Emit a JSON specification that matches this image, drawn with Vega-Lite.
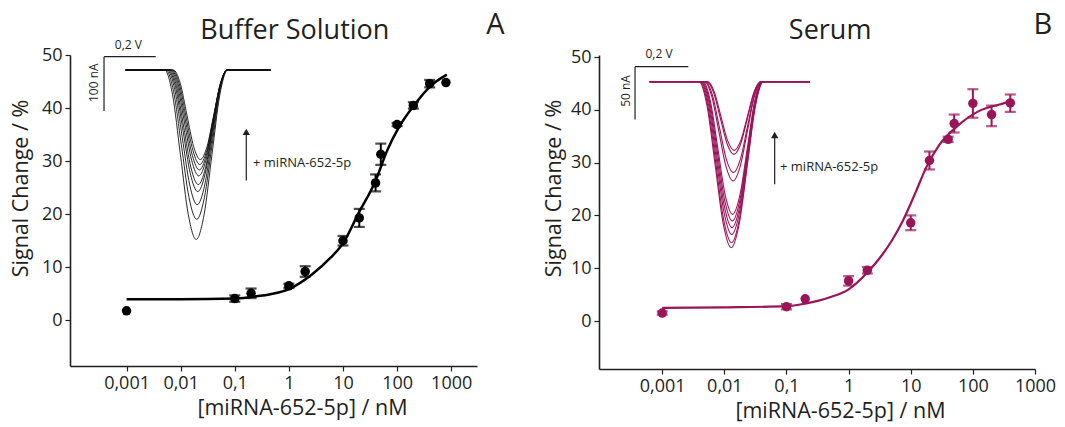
{
"$schema": "https://vega.github.io/schema/vega-lite/v6.json",
"background": "white",
"padding": {"left": 10, "top": 10, "right": 5, "bottom": 0},
"autosize": {"type": "pad"},
"spacing": 122,
"bounds": "flush",
"config": {
  "font": "Open Sans",
  "view": {"stroke": null},
  "axis": {"grid": false, "domainColor": "#231f20", "domainWidth": 1.6, "tickColor": "#231f20", "tickWidth": 1.2, "tickSize": 5, "labelFont": "Open Sans", "labelFontSize": 18, "labelColor": "#231f20", "labelPadding": 3, "titleFont": "Open Sans", "titleFontSize": 21.5, "titleFontWeight": "normal", "titleColor": "#231f20", "labelOverlap": false, "labelFlush": false}
},
"datasets": {
  "fitA": [{"conc":0.001,"value":4.0},{"conc":0.01,"value":4.0},{"conc":0.1,"value":4.1},{"conc":0.2,"value":4.4},{"conc":0.5,"value":5.0},{"conc":1,"value":5.9},{"conc":2.7,"value":8.7},{"conc":5.9,"value":11.8},{"conc":10,"value":14.5},{"conc":19.4,"value":20.2},{"conc":39.7,"value":26.2},{"conc":65,"value":31.9},{"conc":107,"value":36.3},{"conc":202,"value":40.4},{"conc":411,"value":44.1},{"conc":830,"value":46.3}],
  "fitB": [{"conc":0.001,"value":2.5},{"conc":0.01,"value":2.6},{"conc":0.1,"value":2.8},{"conc":0.2,"value":3.3},{"conc":0.5,"value":4.5},{"conc":1,"value":6.0},{"conc":2,"value":9.2},{"conc":3.5,"value":12.6},{"conc":5,"value":15.3},{"conc":7.4,"value":18.9},{"conc":12.2,"value":24.6},{"conc":17.6,"value":29.0},{"conc":29,"value":33.4},{"conc":60,"value":37.2},{"conc":127,"value":39.8},{"conc":267,"value":41.0},{"conc":437,"value":41.7}],
  "ptsA": [{"conc":0.001,"value":1.8,"lo":1.8,"hi":1.8},{"conc":0.1,"value":4.1,"lo":3.5,"hi":4.7},{"conc":0.2,"value":5.1,"lo":4.2,"hi":6.0},{"conc":1,"value":6.5,"lo":6.1,"hi":6.9},{"conc":2,"value":9.2,"lo":8.2,"hi":10.2},{"conc":10,"value":15.0,"lo":14.1,"hi":15.9},{"conc":20,"value":19.3,"lo":17.6,"hi":21.0},{"conc":40,"value":25.9,"lo":24.3,"hi":27.5},{"conc":50,"value":31.3,"lo":29.3,"hi":33.3},{"conc":100,"value":36.9,"lo":36.6,"hi":37.2},{"conc":200,"value":40.5,"lo":39.9,"hi":41.1},{"conc":400,"value":44.6,"lo":43.9,"hi":45.3},{"conc":800,"value":44.8,"lo":44.8,"hi":44.8}],
  "ptsB": [{"conc":0.001,"value":1.5,"lo":1.2,"hi":1.8},{"conc":0.1,"value":2.7,"lo":2.2,"hi":3.2},{"conc":0.2,"value":4.2,"lo":4.2,"hi":4.2},{"conc":1,"value":7.6,"lo":6.7,"hi":8.5},{"conc":2,"value":9.6,"lo":9.0,"hi":10.2},{"conc":10,"value":18.6,"lo":17.2,"hi":20.0},{"conc":20,"value":30.4,"lo":28.7,"hi":32.1},{"conc":40,"value":34.4,"lo":33.9,"hi":34.9},{"conc":50,"value":37.4,"lo":35.7,"hi":39.1},{"conc":100,"value":41.2,"lo":38.5,"hi":43.9},{"conc":200,"value":39.1,"lo":36.9,"hi":40.8},{"conc":400,"value":41.3,"lo":39.6,"hi":42.9}],
  "trA": [
    {"t":0,"E":-0.56,"I":0},{"t":0,"E":-0.409,"I":0},{"t":0,"E":-0.3785,"I":-45.6},{"t":0,"E":-0.348,"I":-156},{"t":0,"E":-0.3175,"I":-266.4},{"t":0,"E":-0.287,"I":-312},{"t":0,"E":-0.2565,"I":-266.4},{"t":0,"E":-0.226,"I":-156},{"t":0,"E":-0.1955,"I":-45.6},{"t":0,"E":-0.165,"I":0},{"t":0,"E":0.0,"I":0},
    {"t":1,"E":-0.56,"I":0},{"t":1,"E":-0.404,"I":0},{"t":1,"E":-0.3743,"I":-40.2},{"t":1,"E":-0.3445,"I":-137.5},{"t":1,"E":-0.3148,"I":-234.9},{"t":1,"E":-0.285,"I":-275},{"t":1,"E":-0.2553,"I":-234.9},{"t":1,"E":-0.2255,"I":-137.5},{"t":1,"E":-0.1958,"I":-40.2},{"t":1,"E":-0.166,"I":0},{"t":1,"E":0.0,"I":0},
    {"t":2,"E":-0.56,"I":0},{"t":2,"E":-0.399,"I":0},{"t":2,"E":-0.37,"I":-36.2},{"t":2,"E":-0.341,"I":-124},{"t":2,"E":-0.312,"I":-211.8},{"t":2,"E":-0.283,"I":-248},{"t":2,"E":-0.254,"I":-211.8},{"t":2,"E":-0.225,"I":-124},{"t":2,"E":-0.196,"I":-36.2},{"t":2,"E":-0.167,"I":0},{"t":2,"E":0.0,"I":0},
    {"t":3,"E":-0.56,"I":0},{"t":3,"E":-0.395,"I":0},{"t":3,"E":-0.3665,"I":-32.7},{"t":3,"E":-0.338,"I":-112},{"t":3,"E":-0.3095,"I":-191.3},{"t":3,"E":-0.281,"I":-224},{"t":3,"E":-0.2525,"I":-191.3},{"t":3,"E":-0.224,"I":-112},{"t":3,"E":-0.1955,"I":-32.7},{"t":3,"E":-0.167,"I":0},{"t":3,"E":0.0,"I":0},
    {"t":4,"E":-0.56,"I":0},{"t":4,"E":-0.391,"I":0},{"t":4,"E":-0.363,"I":-30.8},{"t":4,"E":-0.335,"I":-105.5},{"t":4,"E":-0.307,"I":-180.2},{"t":4,"E":-0.279,"I":-211},{"t":4,"E":-0.251,"I":-180.2},{"t":4,"E":-0.223,"I":-105.5},{"t":4,"E":-0.195,"I":-30.8},{"t":4,"E":-0.167,"I":0},{"t":4,"E":0.0,"I":0},
    {"t":5,"E":-0.56,"I":0},{"t":5,"E":-0.387,"I":0},{"t":5,"E":-0.3595,"I":-28.5},{"t":5,"E":-0.332,"I":-97.5},{"t":5,"E":-0.3045,"I":-166.5},{"t":5,"E":-0.277,"I":-195},{"t":5,"E":-0.2495,"I":-166.5},{"t":5,"E":-0.222,"I":-97.5},{"t":5,"E":-0.1945,"I":-28.5},{"t":5,"E":-0.167,"I":0},{"t":5,"E":0.0,"I":0},
    {"t":6,"E":-0.56,"I":0},{"t":6,"E":-0.383,"I":0},{"t":6,"E":-0.356,"I":-26.9},{"t":6,"E":-0.329,"I":-92},{"t":6,"E":-0.302,"I":-157.1},{"t":6,"E":-0.275,"I":-184},{"t":6,"E":-0.248,"I":-157.1},{"t":6,"E":-0.221,"I":-92},{"t":6,"E":-0.194,"I":-26.9},{"t":6,"E":-0.167,"I":0},{"t":6,"E":0.0,"I":0},
    {"t":7,"E":-0.56,"I":0},{"t":7,"E":-0.379,"I":0},{"t":7,"E":-0.3525,"I":-25.4},{"t":7,"E":-0.326,"I":-87},{"t":7,"E":-0.2995,"I":-148.6},{"t":7,"E":-0.273,"I":-174},{"t":7,"E":-0.2465,"I":-148.6},{"t":7,"E":-0.22,"I":-87},{"t":7,"E":-0.1935,"I":-25.4},{"t":7,"E":-0.167,"I":0},{"t":7,"E":0.0,"I":0},
    {"t":8,"E":-0.56,"I":0},{"t":8,"E":-0.375,"I":0},{"t":8,"E":-0.349,"I":-24.1},{"t":8,"E":-0.323,"I":-82.5},{"t":8,"E":-0.297,"I":-140.9},{"t":8,"E":-0.271,"I":-165},{"t":8,"E":-0.245,"I":-140.9},{"t":8,"E":-0.219,"I":-82.5},{"t":8,"E":-0.193,"I":-24.1},{"t":8,"E":-0.167,"I":0},{"t":8,"E":0.0,"I":0}
  ],
  "trB": [
    {"t":0,"E":-0.59,"I":0},{"t":0,"E":-0.405,"I":0},{"t":0,"E":-0.3748,"I":-23.0},{"t":0,"E":-0.3445,"I":-78.75},{"t":0,"E":-0.3143,"I":-134.5},{"t":0,"E":-0.284,"I":-157.5},{"t":0,"E":-0.2538,"I":-134.5},{"t":0,"E":-0.2235,"I":-78.75},{"t":0,"E":-0.1933,"I":-23.0},{"t":0,"E":-0.163,"I":0},{"t":0,"E":0.01,"I":0},
    {"t":1,"E":-0.59,"I":0},{"t":1,"E":-0.402,"I":0},{"t":1,"E":-0.3723,"I":-22.3},{"t":1,"E":-0.3425,"I":-76.4},{"t":1,"E":-0.3128,"I":-130.5},{"t":1,"E":-0.283,"I":-152.8},{"t":1,"E":-0.2533,"I":-130.5},{"t":1,"E":-0.2235,"I":-76.4},{"t":1,"E":-0.1938,"I":-22.3},{"t":1,"E":-0.164,"I":0},{"t":1,"E":0.01,"I":0},
    {"t":2,"E":-0.59,"I":0},{"t":2,"E":-0.399,"I":0},{"t":2,"E":-0.3698,"I":-21.2},{"t":2,"E":-0.3405,"I":-72.5},{"t":2,"E":-0.3113,"I":-123.7},{"t":2,"E":-0.282,"I":-144.9},{"t":2,"E":-0.2528,"I":-123.7},{"t":2,"E":-0.2235,"I":-72.5},{"t":2,"E":-0.1943,"I":-21.2},{"t":2,"E":-0.165,"I":0},{"t":2,"E":0.01,"I":0},
    {"t":3,"E":-0.59,"I":0},{"t":3,"E":-0.396,"I":0},{"t":3,"E":-0.3673,"I":-20.2},{"t":3,"E":-0.3385,"I":-69.3},{"t":3,"E":-0.3098,"I":-118.3},{"t":3,"E":-0.281,"I":-138.5},{"t":3,"E":-0.2523,"I":-118.3},{"t":3,"E":-0.2235,"I":-69.3},{"t":3,"E":-0.1948,"I":-20.2},{"t":3,"E":-0.166,"I":0},{"t":3,"E":0.01,"I":0},
    {"t":4,"E":-0.59,"I":0},{"t":4,"E":-0.393,"I":0},{"t":4,"E":-0.3648,"I":-19.3},{"t":4,"E":-0.3365,"I":-66.1},{"t":4,"E":-0.3083,"I":-112.9},{"t":4,"E":-0.28,"I":-132.2},{"t":4,"E":-0.2518,"I":-112.9},{"t":4,"E":-0.2235,"I":-66.1},{"t":4,"E":-0.1953,"I":-19.3},{"t":4,"E":-0.167,"I":0},{"t":4,"E":0.01,"I":0},
    {"t":5,"E":-0.59,"I":0},{"t":5,"E":-0.39,"I":0},{"t":5,"E":-0.3623,"I":-18.4},{"t":5,"E":-0.3345,"I":-63.0},{"t":5,"E":-0.3068,"I":-107.5},{"t":5,"E":-0.279,"I":-125.9},{"t":5,"E":-0.2513,"I":-107.5},{"t":5,"E":-0.2235,"I":-63.0},{"t":5,"E":-0.1958,"I":-18.4},{"t":5,"E":-0.168,"I":0},{"t":5,"E":0.01,"I":0},
    {"t":6,"E":-0.59,"I":0},{"t":6,"E":-0.384,"I":0},{"t":6,"E":-0.3573,"I":-13.8},{"t":6,"E":-0.3305,"I":-47.1},{"t":6,"E":-0.3038,"I":-80.4},{"t":6,"E":-0.277,"I":-94.2},{"t":6,"E":-0.2503,"I":-80.4},{"t":6,"E":-0.2235,"I":-47.1},{"t":6,"E":-0.1968,"I":-13.8},{"t":6,"E":-0.17,"I":0},{"t":6,"E":0.01,"I":0},
    {"t":7,"E":-0.59,"I":0},{"t":7,"E":-0.381,"I":0},{"t":7,"E":-0.3548,"I":-12.6},{"t":7,"E":-0.3285,"I":-43.2},{"t":7,"E":-0.3023,"I":-73.7},{"t":7,"E":-0.276,"I":-86.3},{"t":7,"E":-0.2498,"I":-73.7},{"t":7,"E":-0.2235,"I":-43.2},{"t":7,"E":-0.1973,"I":-12.6},{"t":7,"E":-0.171,"I":0},{"t":7,"E":0.01,"I":0},
    {"t":8,"E":-0.59,"I":0},{"t":8,"E":-0.376,"I":0},{"t":8,"E":-0.3505,"I":-10.1},{"t":8,"E":-0.325,"I":-34.5},{"t":8,"E":-0.2995,"I":-58.9},{"t":8,"E":-0.274,"I":-69},{"t":8,"E":-0.2485,"I":-58.9},{"t":8,"E":-0.223,"I":-34.5},{"t":8,"E":-0.1975,"I":-10.1},{"t":8,"E":-0.172,"I":0},{"t":8,"E":0.01,"I":0},
    {"t":9,"E":-0.59,"I":0},{"t":9,"E":-0.373,"I":0},{"t":9,"E":-0.348,"I":-9.5},{"t":9,"E":-0.323,"I":-32.6},{"t":9,"E":-0.298,"I":-55.7},{"t":9,"E":-0.273,"I":-65.2},{"t":9,"E":-0.248,"I":-55.7},{"t":9,"E":-0.223,"I":-32.6},{"t":9,"E":-0.198,"I":-9.5},{"t":9,"E":-0.173,"I":0},{"t":9,"E":0.01,"I":0}
  ],
  "barA": [{"x1":-0.6436,"x2":-0.4436,"y1":24.5,"y2":24.5},{"x1":-0.6436,"x2":-0.6436,"y1":24.5,"y2":-75.5},{"x1":-0.0932,"x2":-0.0932,"y1":-203.3,"y2":-112}],
  "barB": [{"x1":-0.645,"x2":-0.445,"y1":14.2,"y2":14.2},{"x1":-0.645,"x2":-0.645,"y1":14.2,"y2":-35.8},{"x1":-0.121,"x2":-0.121,"y1":-97.4,"y2":-50}]
},
"hconcat": [
{
  "width": 407, "height": 311,
  "resolve": {"scale": {"x": "independent", "y": "independent"}, "axis": {"x": "independent", "y": "independent"}},
  "layer": [
    {"layer": [
      {"data": {"name": "fitA"}, "mark": {"type": "line", "interpolate": "monotone", "color": "#000000", "strokeWidth": 2.5},
       "encoding": {
         "x": {"field": "conc", "type": "quantitative", "scale": {"type": "log", "domain": [0.00009, 3000], "nice": false}, "axis": {"values": [0.001, 0.01, 0.1, 1, 10, 100, 1000], "labelExpr": "replace(toString(datum.value), '.', ',')", "title": "[miRNA-652-5p] / nM", "titleX": 232, "titleY": 42, "titleBaseline": "middle", "titleAlign": "center"}},
         "y": {"field": "value", "type": "quantitative", "scale": {"domain": [-8.6, 50], "nice": false, "zero": false}, "axis": {"values": [0, 10, 20, 30, 40, 50], "title": "Signal Change / %", "titleX": -48.5, "titleY": 133, "titleBaseline": "middle", "titleAlign": "center", "titleAngle": 270}}
       }},
      {"data": {"name": "ptsA"}, "transform": [{"filter": "datum.hi > datum.lo"}], "mark": {"type": "rule", "color": "#000000", "strokeWidth": 2},
       "encoding": {"x": {"field": "conc", "type": "quantitative", "title": "[miRNA-652-5p] / nM"}, "y": {"field": "lo", "type": "quantitative", "title": "Signal Change / %"}, "y2": {"field": "hi"}}},
      {"data": {"name": "ptsA"}, "transform": [{"filter": "datum.hi > datum.lo"}], "mark": {"type": "tick", "orient": "horizontal", "size": 11, "thickness": 2.2, "color": "#000000"},
       "encoding": {"x": {"field": "conc", "type": "quantitative", "title": "[miRNA-652-5p] / nM"}, "y": {"field": "lo", "type": "quantitative", "title": "Signal Change / %"}}},
      {"data": {"name": "ptsA"}, "transform": [{"filter": "datum.hi > datum.lo"}], "mark": {"type": "tick", "orient": "horizontal", "size": 11, "thickness": 2.2, "color": "#000000"},
       "encoding": {"x": {"field": "conc", "type": "quantitative", "title": "[miRNA-652-5p] / nM"}, "y": {"field": "hi", "type": "quantitative", "title": "Signal Change / %"}}},
      {"data": {"name": "ptsA"}, "mark": {"type": "circle", "size": 90, "color": "#000000", "opacity": 1},
       "encoding": {"x": {"field": "conc", "type": "quantitative", "title": "[miRNA-652-5p] / nM"}, "y": {"field": "value", "type": "quantitative", "title": "Signal Change / %"}}},
      {"data": {"values": [{}]}, "mark": {"type": "text", "text": "A", "fontSize": 29, "font": "Open Sans", "color": "#231f20", "baseline": "middle", "align": "center"},
       "encoding": {"x": {"datum": 6600, "type": "quantitative", "title": "[miRNA-652-5p] / nM"}, "y": {"datum": 55.7, "type": "quantitative", "title": "Signal Change / %"}}},
      {"data": {"values": [{}]}, "mark": {"type": "text", "text": "Buffer Solution", "fontSize": 27, "font": "Open Sans", "color": "#231f20", "baseline": "middle", "align": "center"},
       "encoding": {"x": {"datum": 1.29, "type": "quantitative", "title": "[miRNA-652-5p] / nM"}, "y": {"datum": 54.6, "type": "quantitative", "title": "Signal Change / %"}}}
    ]},
    {"layer": [
      {"data": {"name": "trA"}, "mark": {"type": "line", "interpolate": "monotone", "color": "#111111", "strokeWidth": 0.9},
       "encoding": {"x": {"field": "E", "type": "quantitative", "scale": {"domain": [-0.7752, 0.7993], "nice": false, "zero": false}, "axis": null},
                    "y": {"field": "I", "type": "quantitative", "scale": {"domain": [-545.1, 27.6], "nice": false, "zero": false}, "axis": null},
                    "detail": {"field": "t", "type": "nominal"}}},
      {"data": {"name": "barA"}, "mark": {"type": "rule", "color": "#231f20", "strokeWidth": 1.2},
       "encoding": {"x": {"field": "x1", "type": "quantitative", "axis": null}, "x2": {"field": "x2"}, "y": {"field": "y1", "type": "quantitative", "axis": null}, "y2": {"field": "y2"}}},
      {"data": {"values": [{"E": -0.0932, "I": -114}]}, "mark": {"type": "point", "shape": "triangle-up", "filled": true, "size": 55, "color": "#231f20", "opacity": 1},
       "encoding": {"x": {"field": "E", "type": "quantitative", "axis": null}, "y": {"field": "I", "type": "quantitative", "axis": null}}},
      {"data": {"values": [{"E": -0.5496, "I": 46.0, "label": "0,2 V"}]}, "mark": {"type": "text", "fontSize": 12, "align": "center", "baseline": "middle", "color": "#231f20"},
       "encoding": {"x": {"field": "E", "type": "quantitative", "axis": null}, "y": {"field": "I", "type": "quantitative", "axis": null}, "text": {"field": "label"}}},
      {"data": {"values": [{"E": -0.6823, "I": -23.4, "label": "100 nA"}]}, "mark": {"type": "text", "fontSize": 12, "align": "center", "baseline": "middle", "angle": 270, "color": "#231f20"},
       "encoding": {"x": {"field": "E", "type": "quantitative", "axis": null}, "y": {"field": "I", "type": "quantitative", "axis": null}, "text": {"field": "label"}}},
      {"data": {"values": [{"E": -0.0672, "I": -172, "label": "+ miRNA-652-5p"}]}, "mark": {"type": "text", "fontSize": 13, "align": "left", "baseline": "middle", "color": "#231f20"},
       "encoding": {"x": {"field": "E", "type": "quantitative", "axis": null}, "y": {"field": "I", "type": "quantitative", "axis": null}, "text": {"field": "label"}}}
    ]}
  ]
},
{
  "width": 436, "height": 314,
  "resolve": {"scale": {"x": "independent", "y": "independent"}, "axis": {"x": "independent", "y": "independent"}},
  "layer": [
    {"layer": [
      {"data": {"name": "fitB"}, "mark": {"type": "line", "interpolate": "monotone", "color": "#9a1458", "strokeWidth": 2.2},
       "encoding": {
         "x": {"field": "conc", "type": "quantitative", "scale": {"type": "log", "domain": [0.000096, 1000], "nice": false}, "axis": {"values": [0.001, 0.01, 0.1, 1, 10, 100, 1000], "labelExpr": "replace(toString(datum.value), '.', ',')", "title": "[miRNA-652-5p] / nM", "titleX": 241, "titleY": 42, "titleBaseline": "middle", "titleAlign": "center"}},
         "y": {"field": "value", "type": "quantitative", "scale": {"domain": [-9.09, 50.38], "nice": false, "zero": false}, "axis": {"values": [0, 10, 20, 30, 40, 50], "title": "Signal Change / %", "titleX": -45, "titleY": 133, "titleBaseline": "middle", "titleAlign": "center", "titleAngle": 270}}
       }},
      {"data": {"name": "ptsB"}, "transform": [{"filter": "datum.hi > datum.lo"}], "mark": {"type": "rule", "color": "#9a1458", "strokeWidth": 2},
       "encoding": {"x": {"field": "conc", "type": "quantitative", "title": "[miRNA-652-5p] / nM"}, "y": {"field": "lo", "type": "quantitative", "title": "Signal Change / %"}, "y2": {"field": "hi"}}},
      {"data": {"name": "ptsB"}, "transform": [{"filter": "datum.hi > datum.lo"}], "mark": {"type": "tick", "orient": "horizontal", "size": 11, "thickness": 2.2, "color": "#9a1458"},
       "encoding": {"x": {"field": "conc", "type": "quantitative", "title": "[miRNA-652-5p] / nM"}, "y": {"field": "lo", "type": "quantitative", "title": "Signal Change / %"}}},
      {"data": {"name": "ptsB"}, "transform": [{"filter": "datum.hi > datum.lo"}], "mark": {"type": "tick", "orient": "horizontal", "size": 11, "thickness": 2.2, "color": "#9a1458"},
       "encoding": {"x": {"field": "conc", "type": "quantitative", "title": "[miRNA-652-5p] / nM"}, "y": {"field": "hi", "type": "quantitative", "title": "Signal Change / %"}}},
      {"data": {"name": "ptsB"}, "mark": {"type": "circle", "size": 90, "color": "#9a1458", "opacity": 1},
       "encoding": {"x": {"field": "conc", "type": "quantitative", "title": "[miRNA-652-5p] / nM"}, "y": {"field": "value", "type": "quantitative", "title": "Signal Change / %"}}},
      {"data": {"values": [{}]}, "mark": {"type": "text", "text": "B", "fontSize": 29, "font": "Open Sans", "color": "#231f20", "baseline": "middle", "align": "center"},
       "encoding": {"x": {"datum": 1334, "type": "quantitative", "title": "[miRNA-652-5p] / nM"}, "y": {"datum": 56.1, "type": "quantitative", "title": "Signal Change / %"}}},
      {"data": {"values": [{}]}, "mark": {"type": "text", "text": "Serum", "fontSize": 27, "font": "Open Sans", "color": "#231f20", "baseline": "middle", "align": "center"},
       "encoding": {"x": {"datum": 0.504, "type": "quantitative", "title": "[miRNA-652-5p] / nM"}, "y": {"datum": 55.0, "type": "quantitative", "title": "Signal Change / %"}}}
    ]},
    {"layer": [
      {"data": {"name": "trB"}, "mark": {"type": "line", "interpolate": "monotone", "color": "#9a1458", "strokeWidth": 1.1},
       "encoding": {"x": {"field": "E", "type": "quantitative", "scale": {"domain": [-0.7802, 0.8558], "nice": false, "zero": false}, "axis": null},
                    "y": {"field": "I", "type": "quantitative", "scale": {"domain": [-272.6, 25.3], "nice": false, "zero": false}, "axis": null},
                    "detail": {"field": "t", "type": "nominal"}}},
      {"data": {"name": "barB"}, "mark": {"type": "rule", "color": "#231f20", "strokeWidth": 1.2},
       "encoding": {"x": {"field": "x1", "type": "quantitative", "axis": null}, "x2": {"field": "x2"}, "y": {"field": "y1", "type": "quantitative", "axis": null}, "y2": {"field": "y2"}}},
      {"data": {"values": [{"E": -0.121, "I": -50.6}]}, "mark": {"type": "point", "shape": "triangle-up", "filled": true, "size": 55, "color": "#231f20", "opacity": 1},
       "encoding": {"x": {"field": "E", "type": "quantitative", "axis": null}, "y": {"field": "I", "type": "quantitative", "axis": null}}},
      {"data": {"values": [{"E": -0.555, "I": 25.9, "label": "0,2 V"}]}, "mark": {"type": "text", "fontSize": 12, "align": "center", "baseline": "middle", "color": "#231f20"},
       "encoding": {"x": {"field": "E", "type": "quantitative", "axis": null}, "y": {"field": "I", "type": "quantitative", "axis": null}, "text": {"field": "label"}}},
      {"data": {"values": [{"E": -0.68, "I": -8.8, "label": "50 nA"}]}, "mark": {"type": "text", "fontSize": 12, "align": "center", "baseline": "middle", "angle": 270, "color": "#231f20"},
       "encoding": {"x": {"field": "E", "type": "quantitative", "axis": null}, "y": {"field": "I", "type": "quantitative", "axis": null}, "text": {"field": "label"}}},
      {"data": {"values": [{"E": -0.101, "I": -80.6, "label": "+ miRNA-652-5p"}]}, "mark": {"type": "text", "fontSize": 13, "align": "left", "baseline": "middle", "color": "#231f20"},
       "encoding": {"x": {"field": "E", "type": "quantitative", "axis": null}, "y": {"field": "I", "type": "quantitative", "axis": null}, "text": {"field": "label"}}}
    ]}
  ]
}
]
}
